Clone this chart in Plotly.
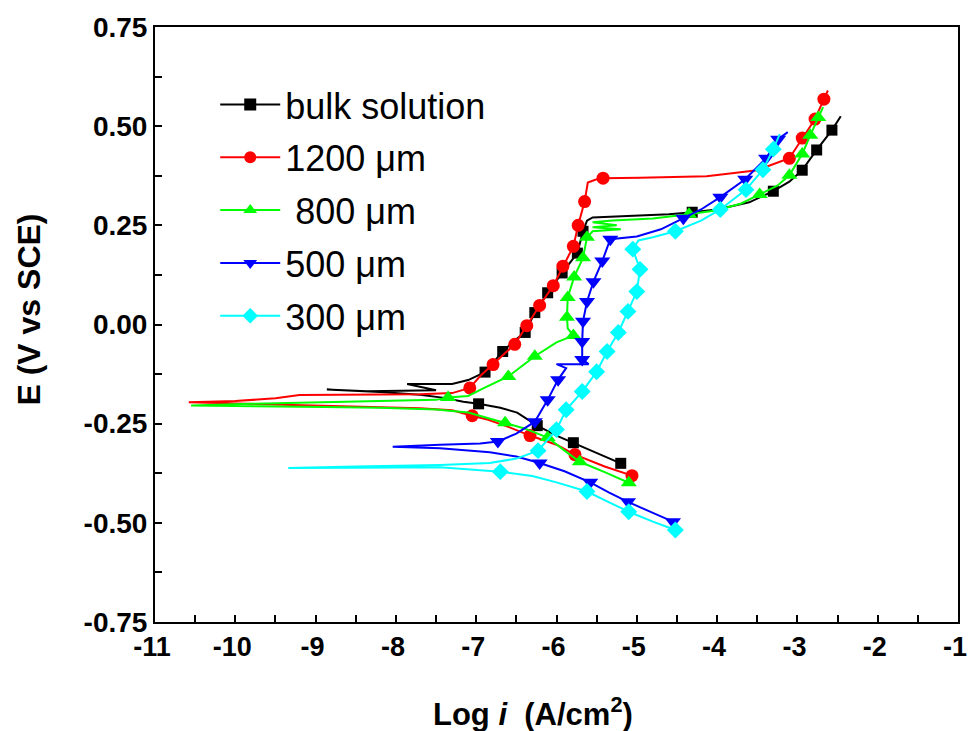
import plotly.graph_objects as go

# Potentiodynamic polarization curves: log current density vs potential.
# Each series runs from the cathodic end, through Ecorr, to the anodic end.
# mark_* flags the points that carry a symbol.

bulk_logi = [-5.20, -5.40, -5.60, -5.79, -6.00, -6.24, -6.49, -6.70, -6.97, -7.16, -7.40, -7.70, -8.20, -8.86,
             -8.36, -7.50, -7.86, -7.30, -7.10, -6.89, -6.67, -6.52, -6.39, -6.27, -6.11, -5.93, -5.74, -5.67,
             -5.62, -5.55, -5.00, -4.60, -4.31, -4.00, -3.60, -3.30, -3.10, -2.94, -2.76, -2.57, -2.46]
bulk_E = [-0.350, -0.333, -0.315, -0.298, -0.280, -0.255, -0.222, -0.210, -0.200, -0.195, -0.185, -0.177, -0.170, -0.164,
          -0.168, -0.166, -0.150, -0.150, -0.140, -0.120, -0.068, -0.040, -0.020, 0.030, 0.080, 0.130, 0.180, 0.235,
          0.262, 0.270, 0.274, 0.278, 0.283, 0.290, 0.308, 0.336, 0.360, 0.389, 0.440, 0.490, 0.525]
mark_bulk = [1, 0, 0, 1, 0, 1, 0, 0, 1, 0, 0, 0, 0, 0,
             0, 0, 0, 0, 0, 1, 1, 0, 1, 1, 1, 1, 1, 1,
             0, 0, 0, 0, 1, 0, 0, 1, 0, 1, 1, 1, 0]

um1200_logi = [-5.02, -5.06, -5.40, -5.77, -6.00, -6.33, -6.60, -6.85, -7.05, -7.30, -7.70, -8.30, -9.00, -9.80, -10.58,
               -10.00, -9.50, -9.20, -8.50, -7.70, -7.30, -7.08, -6.95, -6.79, -6.65, -6.52, -6.37, -6.21, -6.04,
               -5.92, -5.79, -5.73, -5.65, -5.61, -5.50, -5.42, -4.96, -4.13, -3.50, -3.10, -2.94, -2.78, -2.67, -2.62]
um1200_E = [-0.385, -0.381, -0.358, -0.328, -0.303, -0.280, -0.258, -0.240, -0.230, -0.216, -0.211, -0.208, -0.204, -0.200, -0.196,
            -0.193, -0.186, -0.178, -0.177, -0.176, -0.173, -0.160, -0.130, -0.101, -0.075, -0.050, -0.003, 0.048, 0.098,
            0.147, 0.197, 0.250, 0.310, 0.358, 0.366, 0.369, 0.370, 0.374, 0.389, 0.419, 0.470, 0.518, 0.568, 0.590]
mark_1200 = [0, 1, 0, 1, 0, 1, 0, 0, 1, 0, 0, 0, 0, 0, 0,
             0, 0, 0, 0, 0, 0, 1, 0, 1, 0, 1, 1, 1, 1,
             1, 1, 1, 1, 0, 0, 1, 0, 0, 0, 1, 1, 1, 1, 0]

um800_logi = [-5.05, -5.10, -5.40, -5.71, -5.90, -6.11, -6.40, -6.64, -6.83, -7.10, -7.50, -8.20, -8.90, -9.70, -10.55,
              -9.80, -8.80, -7.90, -7.50, -7.35, -7.10, -6.90, -6.60, -6.27, -6.00, -5.79, -5.86, -5.87, -5.86,
              -5.78, -5.67, -5.62, -5.55, -5.20, -5.55, -5.25, -5.55, -5.30, -4.80, -4.35, -4.00, -3.70, -3.47,
              -3.25, -3.10, -2.94, -2.84, -2.74, -2.68]
um800_E = [-0.402, -0.399, -0.372, -0.346, -0.318, -0.285, -0.262, -0.248, -0.238, -0.222, -0.214, -0.210, -0.208, -0.206, -0.204,
           -0.200, -0.196, -0.193, -0.190, -0.184, -0.180, -0.160, -0.131, -0.080, -0.045, -0.028, -0.010, 0.018, 0.068,
           0.120, 0.168, 0.220, 0.235, 0.240, 0.245, 0.250, 0.258, 0.262, 0.267, 0.278, 0.288, 0.305, 0.328,
           0.350, 0.376, 0.430, 0.477, 0.522, 0.548]
mark_800 = [0, 1, 0, 1, 0, 1, 0, 1, 0, 0, 0, 0, 0, 0, 0,
            0, 0, 0, 0, 1, 0, 0, 1, 1, 0, 1, 0, 1, 1,
            1, 1, 1, 0, 0, 0, 0, 0, 0, 0, 1, 0, 0, 1,
            0, 1, 1, 1, 1, 0]

um500_logi = [-4.50, -4.55, -4.80, -5.11, -5.35, -5.58, -5.90, -6.21, -6.50, -6.83, -7.45, -8.04,
              -7.45, -6.95, -6.73, -6.50, -6.27, -6.11, -5.98, -5.88, -6.00, -5.60, -5.68, -5.68, -5.67,
              -5.62, -5.54, -5.43, -5.33, -5.00, -4.70, -4.42, -4.20, -3.96, -3.65, -3.39, -3.24, -3.12]
um500_E = [-0.500, -0.497, -0.475, -0.447, -0.423, -0.398, -0.370, -0.349, -0.333, -0.322, -0.312, -0.308,
           -0.303, -0.300, -0.295, -0.275, -0.245, -0.190, -0.139, -0.110, -0.100, -0.100, -0.088, -0.043, 0.008,
           0.058, 0.108, 0.160, 0.215, 0.222, 0.240, 0.268, 0.290, 0.321, 0.366, 0.419, 0.467, 0.485]
mark_500 = [0, 1, 0, 1, 0, 1, 0, 1, 0, 0, 0, 0,
            0, 0, 1, 0, 1, 1, 1, 0, 0, 0, 1, 1, 1,
            1, 1, 1, 1, 0, 0, 1, 0, 1, 1, 1, 1, 0]

um300_logi = [-4.50, -4.52, -4.80, -5.10, -5.35, -5.62, -6.00, -6.30, -6.70, -7.45, -8.50, -9.34,
              -8.50, -7.45, -6.83, -6.50, -6.23, -6.00, -5.88, -5.68, -5.50, -5.37, -5.23, -5.11, -5.00,
              -4.96, -5.05, -4.98, -4.80, -4.52, -4.20, -3.96, -3.64, -3.43, -3.30, -3.22]
um300_E = [-0.522, -0.518, -0.497, -0.472, -0.448, -0.421, -0.398, -0.382, -0.371, -0.360, -0.361, -0.362,
           -0.358, -0.354, -0.349, -0.338, -0.318, -0.265, -0.215, -0.169, -0.119, -0.068, -0.020, 0.033, 0.083,
           0.139, 0.190, 0.212, 0.220, 0.235, 0.262, 0.290, 0.340, 0.390, 0.442, 0.480]
mark_300 = [0, 1, 0, 1, 0, 1, 0, 0, 1, 0, 0, 0,
            0, 0, 0, 0, 1, 1, 1, 1, 1, 1, 1, 1, 1,
            1, 1, 0, 0, 1, 0, 1, 1, 1, 1, 0]

series_names = ["bulk solution", "1200 \u03bcm", " 800 \u03bcm", "500 \u03bcm", "300 \u03bcm"]
series_x = [bulk_logi, um1200_logi, um800_logi, um500_logi, um300_logi]
series_y = [bulk_E, um1200_E, um800_E, um500_E, um300_E]
series_marks = [mark_bulk, mark_1200, mark_800, mark_500, mark_300]
colors = ["#000000", "#FF0000", "#00FF00", "#0000FF", "#00FFFF"]
symbols = ["square", "circle", "triangle-up", "triangle-down", "diamond"]
sizes = [11, 13, 14, 14, 13]

x_ticks = list(range(-11, 0))
y_ticks = [-0.75, -0.50, -0.25, 0.00, 0.25, 0.50, 0.75]

FONT = "Liberation Sans, Arial, sans-serif"

fig = go.Figure()
for name, xs, ys, mk, col, sym, sz in zip(series_names, series_x, series_y, series_marks,
                                          colors, symbols, sizes):
    grp = name.strip()
    fig.add_trace(go.Scatter(x=xs, y=ys, mode="lines", line=dict(color=col, width=2),
                             showlegend=False, legendgroup=grp, hoverinfo="skip"))
    mx = [x for x, m in zip(xs, mk) if m]
    my = [y for y, m in zip(ys, mk) if m]
    fig.add_trace(go.Scatter(x=mx, y=my, mode="markers",
                             marker=dict(color=col, symbol=sym, size=sz, line=dict(width=0)),
                             showlegend=False, legendgroup=grp))
    # legend entry: line with symbol
    fig.add_trace(go.Scatter(x=[None], y=[None], mode="lines+markers", name=name,
                             line=dict(color=col, width=2),
                             marker=dict(color=col, symbol=sym, size=12),
                             legendgroup=grp))

fig.update_layout(
    width=968, height=731,
    margin=dict(l=155, r=10, t=27, b=109),
    paper_bgcolor="white", plot_bgcolor="white",
    font=dict(family=FONT, color="black"),
    showlegend=True,
    legend=dict(x=0.075, y=0.92, xanchor="left", yanchor="top",
                font=dict(size=36, family=FONT, color="black"),
                bgcolor="rgba(0,0,0,0)", borderwidth=0,
                itemwidth=60, tracegroupgap=3, traceorder="grouped"),
    xaxis=dict(range=[-11, -1], tickvals=x_ticks, ticktext=[str(v) for v in x_ticks],
               ticks="inside", ticklen=7, tickwidth=1.5, tickcolor="black",
               minor=dict(dtick=0.5, ticks="inside", ticklen=7, tickwidth=1.5, tickcolor="black"),
               showline=True, linecolor="black", linewidth=2, mirror=True,
               showgrid=False, zeroline=False, automargin=False,
               ticklabeloverflow="allow", ticklabelshift=-3, ticklabelstandoff=0,
               tickfont=dict(family=FONT, size=27, color="black", weight="bold")),
    yaxis=dict(range=[-0.75, 0.75], tickvals=y_ticks, ticktext=[f"{v:.2f}" for v in y_ticks],
               ticks="inside", ticklen=7, tickwidth=1.5, tickcolor="black",
               minor=dict(dtick=0.125, ticks="inside", ticklen=7, tickwidth=1.5, tickcolor="black"),
               showline=True, linecolor="black", linewidth=2, mirror=True,
               showgrid=False, zeroline=False, automargin=False,
               tickfont=dict(family=FONT, size=28, color="black", weight="bold")),
    annotations=[
        dict(text="<b>Log <i>i</i>  (A/cm<sup>2</sup>)</b>", xref="paper", yref="paper",
             x=0.471, y=-0.151, xanchor="center", yanchor="middle", showarrow=False,
             font=dict(family=FONT, size=31, color="black")),
        dict(text="<b>E (V vs SCE)</b>", xref="paper", yref="paper",
             x=-0.157, y=0.525, xanchor="center", yanchor="middle", showarrow=False,
             textangle=-90, font=dict(family=FONT, size=32, color="black")),
    ],
)

fig.write_html("out.html")
